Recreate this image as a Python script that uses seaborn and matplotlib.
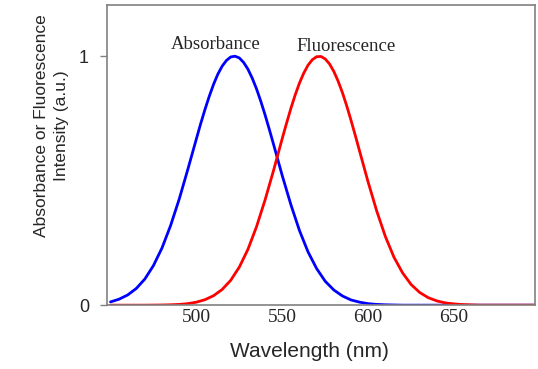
import pandas as pd
import matplotlib
matplotlib.use("Agg")
import matplotlib.pyplot as plt
import seaborn as sns

# absorbance (blue); denser around the peak (~522 nm)
abs_wavelength = [450, 455, 460, 465, 470, 475, 480, 485, 490, 495, 500,
                  502.5, 505, 507.5, 510, 512.5, 515, 517.5, 520, 522.5, 525,
                  527.5, 530, 532.5, 535, 537.5, 540, 542.5, 545,
                  550, 555, 560, 565, 570, 575, 580, 585, 590, 595, 600,
                  605, 610, 615, 620, 630, 640, 650, 660, 670, 680, 690, 700]
absorbance = [0.013, 0.024, 0.041, 0.067, 0.105, 0.159, 0.230, 0.320, 0.426, 0.545, 0.668,
              0.729, 0.786, 0.839, 0.887, 0.928, 0.960, 0.983, 0.997, 1.000, 0.993,
              0.975, 0.948, 0.912, 0.869, 0.819, 0.764, 0.705, 0.644,
              0.520, 0.404, 0.300, 0.214, 0.147, 0.096, 0.061, 0.037, 0.021, 0.012, 0.006,
              0.003, 0.0015, 0.0007, 0, 0, 0, 0, 0, 0, 0, 0, 0]

# fluorescence (red), denser around the peak (~571 nm)
flu_wavelength = [450, 460, 470, 480, 485, 490, 495, 500, 505, 510, 515, 520, 525,
                  530, 535, 540, 545, 550,
                  552.5, 555, 557.5, 560, 562.5, 565, 567.5, 570, 572.5, 575,
                  577.5, 580, 582.5, 585, 587.5, 590, 592.5, 595,
                  600, 605, 610, 615, 620, 625, 630, 635, 640, 645, 650, 655, 660,
                  665, 670, 680, 690, 700]
fluorescence = [0, 0, 0, 0.0007, 0.0015, 0.003, 0.006, 0.012, 0.022, 0.038, 0.063, 0.100, 0.153,
                0.224, 0.315, 0.423, 0.543, 0.670,
                0.731, 0.790, 0.844, 0.892, 0.932, 0.964, 0.986, 0.998, 0.999, 0.989,
                0.969, 0.939, 0.900, 0.854, 0.801, 0.743, 0.682, 0.619,
                0.494, 0.378, 0.276, 0.193, 0.130, 0.083, 0.051, 0.030, 0.017, 0.009, 0.005, 0.0024, 0.0011,
                0, 0, 0, 0, 0]

x_ticks = [500, 550, 600, 650]

df_abs = pd.DataFrame({'wavelength': abs_wavelength, 'value': absorbance})
df_flu = pd.DataFrame({'wavelength': flu_wavelength, 'value': fluorescence})

sns.set_style('white')
plt.rcParams['font.family'] = ['Liberation Sans', 'DejaVu Sans']

fig = plt.figure(figsize=(5.38, 3.69), dpi=100)
ax = fig.add_axes([0.199, 0.173, 0.795, 0.813])

sns.lineplot(x='wavelength', y='value', data=df_abs, color='#0000ff', linewidth=2, ax=ax)
sns.lineplot(x='wavelength', y='value', data=df_flu, color='#ff0000', linewidth=2, ax=ax)

ax.set_xlim(448, 697)
ax.set_ylim(0, 1.205)

ax.set_xticks(x_ticks)
ax.set_xticklabels([str(t) for t in x_ticks], family='Liberation Serif', fontsize=14)
ax.set_yticks([0, 1])
ax.set_yticklabels(['0', '1'], fontsize=13)
ax.tick_params(axis='y', length=5, color='#808080', width=1, pad=8, left=True)
ax.tick_params(axis='x', length=0, pad=3)

for s in ax.spines.values():
    s.set_color('#808080')
    s.set_linewidth(1.2)

ax.set_xlabel('Wavelength (nm)', fontsize=15)
ax.xaxis.set_label_coords(0.473, -0.122)
ax.set_ylabel('Absorbance or Fluorescence\nIntensity (a.u.)', fontsize=12.5, linespacing=1.4)
ax.yaxis.set_label_coords(-0.089, 0.597)

ax.text(511, 1.014, 'Absorbance', family='Liberation Serif', fontsize=13.5, ha='center', va='bottom')
ax.text(587, 1.004, 'Fluorescence', family='Liberation Serif', fontsize=13.5, ha='center', va='bottom')

fig.savefig('out.png', dpi=100)
